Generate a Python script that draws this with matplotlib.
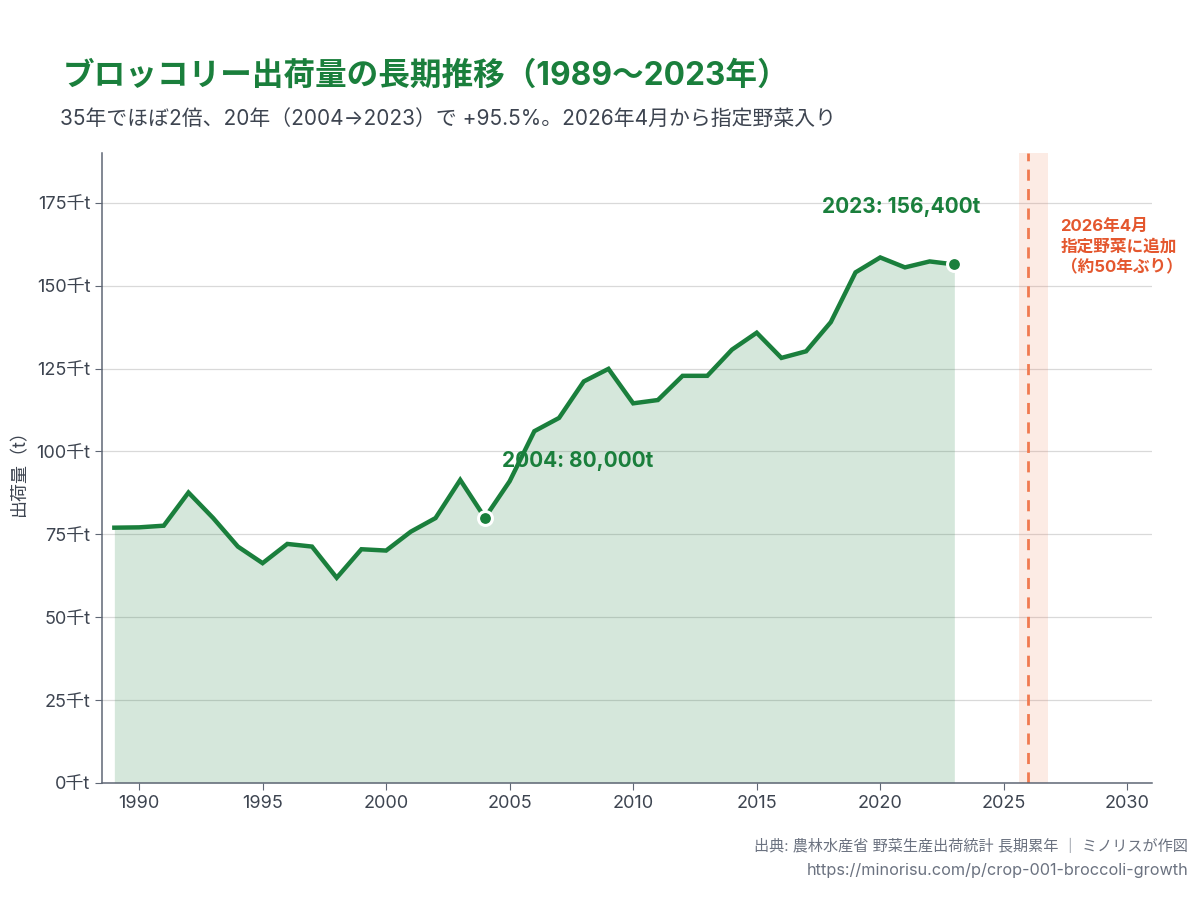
import matplotlib.pyplot as plt
from matplotlib.ticker import FuncFormatter, MultipleLocator

plt.rcParams['font.family'] = ['Inter', 'Noto Sans CJK JP', 'DejaVu Sans']

# broccoli shipments, thousand tonnes
years = list(range(1989, 2024))
shipments = [77.0, 77.1, 77.6, 87.6, 79.9, 71.3, 66.3, 72.1, 71.3, 61.9,
             70.5, 70.1, 75.8, 79.9, 91.4, 80.0, 91.0, 106.1, 110.1, 121.1,
             124.9, 114.5, 115.5, 122.8, 122.8, 130.7, 135.8, 128.2, 130.2, 139.0,
             154.0, 158.5, 155.5, 157.3, 156.4]
highlight_years = [2004, 2023]
highlight_labels = ['2004: 80,000t', '2023: 156,400t']
designation_year = 2026

GREEN = '#1a7f3c'
ORANGE = '#f07a50'
ORANGE_TEXT = '#e4572e'
TEXT = '#3d4450'

fig = plt.figure(figsize=(12, 9), dpi=100)
ax = fig.add_axes([0.085, 0.13, 0.875, 0.70])

ax.fill_between(years, shipments, 0, color=GREEN, alpha=0.18, linewidth=0)
ax.plot(years, shipments, color=GREEN, linewidth=3.2, solid_joinstyle='miter', zorder=3)

# highlighted points
for yr in highlight_years:
    v = shipments[years.index(yr)]
    ax.plot(yr, v, 'o', color=GREEN, markersize=10, markeredgecolor='white',
            markeredgewidth=2.2, zorder=4)

ax.text(2004.7, 97.2, highlight_labels[0], color=GREEN, fontsize=15,
        fontweight='bold', ha='left', va='center')
ax.text(2020.85, 173.8, highlight_labels[1], color=GREEN, fontsize=15,
        fontweight='bold', ha='center', va='center')

# 2026 designated vegetable marker
ax.axvspan(designation_year - 0.4, designation_year + 0.8, color=ORANGE, alpha=0.15, linewidth=0)
ax.axvline(designation_year, color=ORANGE, linestyle=(0, (4, 3)), linewidth=2)
ax.text(2027.3, 170.0, '2026年4月\n指定野菜に追加\n（約50年ぶり）', color=ORANGE_TEXT,
        fontsize=12, fontweight='bold', ha='left', va='top', linespacing=1.35)

ax.set_xlim(1988.5, 2031)
ax.set_ylim(0, 190)
ax.xaxis.set_major_locator(MultipleLocator(5))
ax.yaxis.set_major_locator(MultipleLocator(25))
ax.yaxis.set_major_formatter(FuncFormatter(lambda y, pos: f'{y:.0f}千t'))
ax.grid(axis='y', color='#d9d9d9', linewidth=0.9)
ax.set_axisbelow(True)

for side in ['top', 'right']:
    ax.spines[side].set_visible(False)
for side in ['left', 'bottom']:
    ax.spines[side].set_color('#5f6775')
    ax.spines[side].set_linewidth(1.1)
ax.tick_params(colors='#5f6775', labelcolor=TEXT, labelsize=13, length=5)
ax.set_ylabel('出荷量（t）', color=TEXT, fontsize=13, labelpad=6)

fig.text(0.052, 0.915, 'ブロッコリー出荷量の長期推移（1989〜2023年）', color=GREEN,
         fontsize=22.8, fontweight='bold', ha='left', va='center')
fig.text(0.05, 0.868, '35年でほぼ2倍、20年（2004→2023）で +95.5%。2026年4月から指定野菜入り',
         color=TEXT, fontsize=15, ha='left', va='center')

fig.text(0.99, 0.059, '出典: 農林水産省 野菜生産出荷統計 長期累年 ｜ ミノリスが作図',
         color='#6b7280', fontsize=10.9, ha='right', va='center')
fig.text(0.99, 0.033, 'https://minorisu.com/p/crop-001-broccoli-growth',
         color='#6b7280', fontsize=11.7, ha='right', va='center')

fig.savefig('out.png', dpi=100)
